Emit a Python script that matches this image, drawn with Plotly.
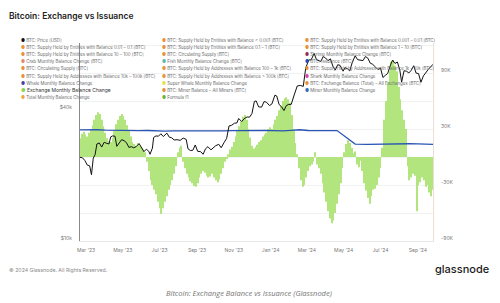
import plotly.graph_objects as go
import pandas as pd

# ---------------- data ----------------
price_dates = ["2023-02-19","2023-02-23","2023-02-27","2023-03-03","2023-03-07","2023-03-10","2023-03-13","2023-03-16","2023-03-19","2023-03-23","2023-03-27","2023-03-31","2023-04-04","2023-04-08","2023-04-11","2023-04-14","2023-04-18","2023-04-21","2023-04-25","2023-04-29","2023-05-03","2023-05-07","2023-05-11","2023-05-15","2023-05-19","2023-05-23","2023-05-28","2023-06-01","2023-06-05","2023-06-09","2023-06-13","2023-06-15","2023-06-19","2023-06-21","2023-06-25","2023-06-29","2023-07-03","2023-07-07","2023-07-13","2023-07-17","2023-07-21","2023-07-25","2023-07-30","2023-08-04","2023-08-09","2023-08-14","2023-08-17","2023-08-21","2023-08-25","2023-08-29","2023-09-02","2023-09-07","2023-09-11","2023-09-15","2023-09-19","2023-09-24","2023-09-28","2023-10-02","2023-10-07","2023-10-11","2023-10-16","2023-10-20","2023-10-24","2023-10-28","2023-11-02","2023-11-06","2023-11-09","2023-11-14","2023-11-18","2023-11-23","2023-11-27","2023-12-01","2023-12-05","2023-12-08","2023-12-12","2023-12-17","2023-12-21","2023-12-25","2023-12-30","2024-01-03","2024-01-08","2024-01-11","2024-01-15","2024-01-19","2024-01-23","2024-01-27","2024-01-31","2024-02-04","2024-02-09","2024-02-14","2024-02-19","2024-02-24","2024-02-28","2024-03-04","2024-03-08","2024-03-13","2024-03-17","2024-03-20","2024-03-24","2024-03-28","2024-04-01","2024-04-05","2024-04-09","2024-04-13","2024-04-17","2024-04-21","2024-04-25","2024-04-30","2024-05-03","2024-05-07","2024-05-11","2024-05-15","2024-05-20","2024-05-24","2024-05-28","2024-06-02","2024-06-06","2024-06-10","2024-06-14","2024-06-18","2024-06-23","2024-06-27","2024-07-01","2024-07-05","2024-07-09","2024-07-13","2024-07-17","2024-07-21","2024-07-25","2024-07-29","2024-08-02","2024-08-05","2024-08-09","2024-08-13","2024-08-17","2024-08-21","2024-08-25","2024-08-29","2024-09-02","2024-09-06","2024-09-10","2024-09-14","2024-09-18","2024-09-22","2024-09-26"]
price_k = [24.3,24.2,23.5,22.4,22.2,20.2,24.1,25.0,28.0,28.3,27.1,28.5,28.2,28.0,30.2,30.5,30.4,27.3,28.3,29.3,29.0,28.4,27.0,27.2,26.9,27.2,28.1,26.8,25.8,26.5,25.9,25.1,26.8,30.0,30.5,30.4,31.2,30.3,31.4,30.1,29.9,29.2,29.3,29.1,29.8,29.4,26.6,26.1,26.2,27.7,25.9,25.8,25.1,26.6,27.2,26.3,27.0,27.5,27.9,26.9,28.5,29.7,33.9,34.1,34.9,35.0,36.7,35.5,36.6,37.3,37.2,38.7,44.0,44.2,41.5,41.4,43.9,43.6,42.1,42.8,47.0,46.6,42.5,41.6,39.9,42.1,42.6,42.6,47.1,51.8,52.1,51.6,62.5,68.3,68.3,73.1,68.4,67.9,67.2,70.8,69.7,67.8,69.1,64.0,61.3,64.9,64.5,60.6,62.9,62.3,60.8,66.2,71.4,68.5,68.4,67.8,70.8,69.6,66.0,65.2,63.2,61.6,62.7,56.7,58.0,59.2,64.1,68.2,65.8,66.8,61.4,54.0,60.9,60.6,59.5,61.2,64.2,59.4,59.1,53.9,57.6,60.0,61.7,63.4,65.2]

issuance_dates = ["2023-02-19","2023-03-05","2023-03-19","2023-04-02","2023-04-16","2023-04-30","2023-05-14","2023-05-28","2023-06-11","2023-06-25","2023-07-09","2023-07-23","2023-08-06","2023-08-20","2023-09-03","2023-09-17","2023-10-01","2023-10-15","2023-10-29","2023-11-12","2023-11-26","2023-12-10","2023-12-24","2024-01-07","2024-01-21","2024-02-04","2024-02-18","2024-03-03","2024-03-17","2024-03-31","2024-04-20","2024-05-20","2024-06-09","2024-06-23","2024-07-07","2024-07-21","2024-08-04","2024-08-18","2024-09-01","2024-09-15","2024-09-26"]
issuance_k = [29.0,29.5,29.2,28.8,28.5,28.3,28.0,28.2,28.4,28.0,27.8,28.0,27.9,27.6,27.5,27.8,28.0,27.9,28.2,28.4,28.5,28.6,28.5,28.3,28.0,28.6,29.2,28.4,28.0,28.2,28.3,13.8,13.6,13.8,14.0,14.4,14.5,14.2,14.0,13.9,13.5]

# exchange monthly balance change, one bar every 3 days from 2023-02-19 (thousand BTC)
exchange_change_k = [
    20,25,27,24,22,26,30,34,40,45,48,46,40,33,26,20,17,16,20,28,
    35,40,44,46,44,40,34,28,22,16,14,12,15,12,10,8,5,
    -5,-15,-25,-30,-35,-40,-48,-55,-61,-55,-48,-42,-35,-30,-25,-18,-10,
    5,10,12,
    -5,-12,-18,-22,-26,-28,-31,-32,-28,-22,-18,-15,-17,-20,-22,-21,-18,-22,-25,-27,-24,-18,-12,-5,-2,
    3,8,11,16,22,28,33,38,43,45,40,30,21,
    12,9,11,13,16,18,
    22,24,26,30,32,30,35,40,44,50,55,60,63,64,62,58,45,30,15,3,
    -12,-25,-32,-30,-22,-15,-10,-8,-5,5,-8,-12,
    -18,-28,-38,-48,-58,-66,-71,-68,-60,-50,-40,-28,-12,
    5,14,18,15,10,4,
    6,-8,-11,-4,
    -15,-28,-36,-44,-50,-42,-35,-34,-30,-22,-12,
    10,40,60,80,92,102,104,98,92,75,62,50,40,30,
    -10,-25,-22,-18,-20,-58,-30,-27,-22,-25,-32,-30,-38,-42,-35,
]

x_tick_dates = ["2023-03-01","2023-05-01","2023-07-01","2023-09-01","2023-11-01","2024-01-01","2024-03-01","2024-05-01","2024-07-01","2024-09-01"]
x_tick_text = ["Mar '23","May '23","Jul '23","Sep '23","Nov '23","Jan '24","Mar '24","May '24","Jul '24","Sep '24"]
right_tick_vals = [-90000, -30000, 30000, 90000]
right_tick_text = ["-90K", "-30K", "30K", "90K"]
left_tick_vals = [10000, 40000]
left_tick_text = ["$10k", "$40k"]

legend_labels = [
    "BTC: Price [USD]",
    "BTC: Supply Held by Entities with Balance < 0.001 [BTC]",
    "BTC: Supply Held by Entities with Balance 0.001 – 0.01 [BTC]",
    "BTC: Supply Held by Entities with Balance 0.01 – 0.1 [BTC]",
    "BTC: Supply Held by Entities with Balance 0.1 – 1 [BTC]",
    "BTC: Supply Held by Entities with Balance 1 – 10 [BTC]",
    "BTC: Supply Held by Entities with Balance 10 – 100 [BTC]",
    "BTC: Circulating Supply [BTC]",
    "Shrimp Monthly Balance Change [BTC]",
    "Crab Monthly Balance Change [BTC]",
    "Fish Monthly Balance Change [BTC]",
    "BTC: Issuance [BTC]",
    "BTC: Circulating Supply [BTC]",
    "BTC: Supply Held by Addresses with Balance 100 – 1k [BTC]",
    "BTC: Supply Held by Addresses with Balance 1k – 10k [BTC]",
    "BTC: Supply Held by Addresses with Balance 10k – 100k [BTC]",
    "BTC: Supply Held by Addresses with Balance > 100k [BTC]",
    "Shark Monthly Balance Change",
    "Whale Monthly Balance Change",
    "Super Whale Monthly Balance Change",
    "BTC: Exchange Balance (Total) – All Exchanges [BTC]",
    "Exchange Monthly Balance Change",
    "BTC: Miner Balance – All Miners [BTC]",
    "Miner Monthly Balance Change",
    "Total Monthly Balance Change",
    "Formula f1",
]
legend_colors = [
    "#111111", "#e8923a", "#e8923a",
    "#e8923a", "#e8923a", "#e8923a",
    "#e8923a", "#e8923a", "#8e2f5e",
    "#e38a6c", "#5cb8b2", "#1f4fc2",
    "#e8923a", "#e8923a", "#e8923a",
    "#e8923a", "#e8923a", "#d64aa6",
    "#4a3fa0", "#e8e04a", "#e8923a",
    "#8fd553", "#e8923a", "#2e6cb5",
    "#efa544", "#69b33c",
]

# ---------------- figure ----------------
W, H = 500, 303
L, R, T, B = 80, 67, 43, 62
pw, ph = W - L - R, H - T - B

def px_x(x):
    return (x - L) / pw

def px_y(y):
    return (H - B - y) / ph

bar_dates = pd.date_range("2023-02-19", periods=len(exchange_change_k), freq="3D")

fig = go.Figure()
fig.add_trace(go.Bar(
    x=bar_dates, y=[v * 1000 for v in exchange_change_k],
    marker=dict(color="#b3e57f", line=dict(width=0)),
    yaxis="y", showlegend=False,
))
fig.add_trace(go.Scatter(
    x=issuance_dates, y=[v * 1000 for v in issuance_k],
    mode="lines", line=dict(color="#2a55b3", width=1.3),
    yaxis="y", showlegend=False,
))
fig.add_trace(go.Scatter(
    x=price_dates, y=[v * 1000 for v in price_k],
    mode="lines", line=dict(color="#111111", width=1.0),
    yaxis="y2", showlegend=False,
))

top_val = -90000 + ph * 30000 / 28.0
top_log = 4 + ph / 217.0

fig.update_layout(
    width=W, height=H,
    margin=dict(l=L, r=R, t=T, b=B),
    paper_bgcolor="white", plot_bgcolor="white",
    bargap=0.4,
    font=dict(family="Inter", color="#777777", size=5),
    xaxis=dict(
        range=["2023-02-19", "2024-09-26"],
        tickvals=x_tick_dates, ticktext=x_tick_text,
        showgrid=False, showline=True, linecolor="#e6e6e6", linewidth=1,
        ticks="", tickfont=dict(size=5, color="#777777"),
        ticklabelstandoff=4, zeroline=False,
    ),
    yaxis=dict(
        side="right", range=[-90000, top_val],
        tickvals=right_tick_vals, ticktext=right_tick_text,
        showgrid=True, gridcolor="#f1f1f1", gridwidth=1,
        minor=dict(dtick=30000, tick0=0, showgrid=True, gridcolor="#f1f1f1", ticks=""),
        zeroline=False, showline=True, linecolor="#eadfd6", linewidth=1,
        ticks="", tickfont=dict(size=5, color="#777777"),
        ticklabelstandoff=6, ticklabelshift=-3,
    ),
    yaxis2=dict(
        type="log", side="left", overlaying="y", range=[4, top_log],
        tickvals=left_tick_vals, ticktext=left_tick_text,
        showgrid=False, zeroline=False,
        showline=True, linecolor="#8a8a8a", linewidth=1,
        ticks="", tickfont=dict(size=5, color="#777777"),
        ticklabelstandoff=6, ticklabelshift=-3,
    ),
)

annotations = []
annotations.append(dict(
    text="Bitcoin: Exchange vs Issuance", x=px_x(7), y=px_y(16.5),
    xref="paper", yref="paper", xanchor="left", yanchor="middle", showarrow=False,
    font=dict(family="Inter", size=8.5, color="#222222", weight=600),
))

col_x = [19, 160, 302.5]
row_y0, row_dy = 40.7, 7.07
for k, (lab, col) in enumerate(zip(legend_labels, legend_colors)):
    r, c = divmod(k, 3)
    highlight = lab == "Exchange Monthly Balance Change"
    annotations.append(dict(
        text=f'<span style="color:{col}">●</span> {lab}',
        x=px_x(col_x[c]), y=px_y(row_y0 + r * row_dy),
        xref="paper", yref="paper", xanchor="left", yanchor="middle", showarrow=False,
        font=dict(family="Inter", size=5 if highlight else 4.4,
                  color="#333333" if highlight else "#6a6a6a"),
    ))

annotations.append(dict(
    text="© 2024 Glassnode. All Rights Reserved.", x=px_x(7), y=px_y(270),
    xref="paper", yref="paper", xanchor="left", yanchor="middle", showarrow=False,
    font=dict(family="Inter", size=5.2, color="#8a8a8a"),
))
annotations.append(dict(
    text="glassnode", x=px_x(491), y=px_y(269),
    xref="paper", yref="paper", xanchor="right", yanchor="middle", showarrow=False,
    font=dict(family="Inter", size=11, color="#1a1a1a", weight=500),
))
annotations.append(dict(
    text="<i>Bitcoin: Exchange Balance vs Issuance (Glassnode)</i>", x=px_x(249), y=px_y(293),
    xref="paper", yref="paper", xanchor="center", yanchor="middle", showarrow=False,
    font=dict(family="Open Sans", size=7.5, color="#777777"),
))
fig.update_layout(annotations=annotations)

fig.write_html("out.html")
